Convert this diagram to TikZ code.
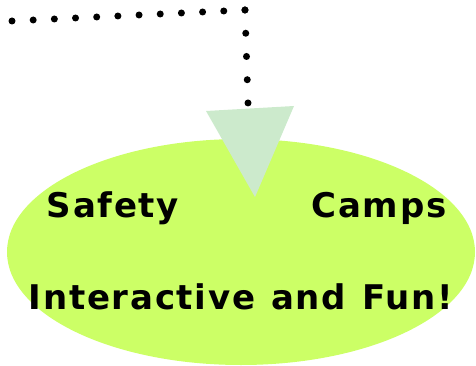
\documentclass[tikz,border=0pt]{standalone}
\usepackage{fontspec}
\setmainfont{DejaVu Sans}
\newfontfamily\camplabelfont[LetterSpace=5,WordSpace=1.2]{DejaVu Sans Bold}
\usetikzlibrary{shapes.geometric,positioning}

\definecolor{campgreen}{RGB}{204,255,102}
\definecolor{arrowgreen}{RGB}{204,234,204}

\begin{document}
\begin{tikzpicture}[x=1pt,y=-1pt]
  \tikzstyle{camp text}=[font=\camplabelfont\fontsize{34}{40}\selectfont,inner sep=0pt,anchor=base]
  \tikzstyle{dot line}=[line width=7pt,line cap=round]
  \useasboundingbox (0,0) rectangle (476,366);

  % Big ellipse
  \node[ellipse,fill=campgreen,inner sep=0pt,minimum width=468pt,minimum height=226pt] (camp) at (241,252) {};

  % Arrow head
  \coordinate (tl) at (206,111);
  \coordinate (tr) at (294,106);
  \coordinate (tip) at (255,197);
  \fill[arrowgreen] (tl) -- (tr) -- (tip) -- cycle;

  % Dotted connector
  \coordinate (start) at (12,21);
  \coordinate (corner) at (245,10);
  \coordinate (stop) at (248,103);
  \draw[dot line,dash pattern=on 0pt off 21.2pt] (start) -- (corner);
  \draw[dot line,dash pattern=on 0pt off 23.25pt] (corner) -- (stop);

  % Labels
  \node[camp text] (safety) at (113,217) {Safety};
  \node[camp text] (camps) at (379,217) {Camps};
  \node[camp text] (fun) at (241,309) {Interactive and Fun!};
\end{tikzpicture}
\end{document}
